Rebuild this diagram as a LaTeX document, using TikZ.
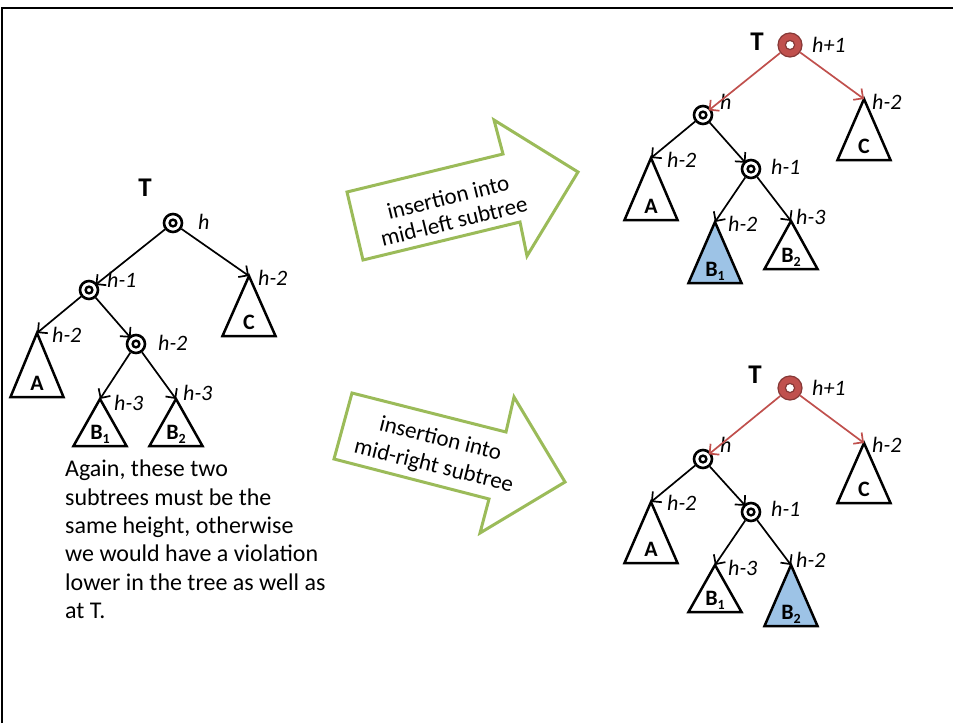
\documentclass[tikz,border=0pt]{standalone}
\usepackage{fontspec}
\setmainfont{Carlito}
\usetikzlibrary{arrows.meta,calc}
\definecolor{ogreen}{HTML}{9BBB59}
\definecolor{ored}{HTML}{C0504D}
\definecolor{oblue}{HTML}{9DC3E6}
\tikzset{
  knode/.style={circle, draw, line width=2.6pt, minimum size=18pt, inner sep=0pt, fill=white,
    path picture={\draw[line width=2.4pt] (path picture bounding box.center) circle (3.4pt);}},
  rnode/.style={circle, draw=ored!70!black, fill=ored, line width=1.2pt, minimum size=24pt, inner sep=0pt,
    path picture={\draw[draw=ored!70!black, fill=white, line width=1.2pt] (path picture bounding box.center) circle (4.6pt);}},
  hlab/.style={font=\fontsize{22}{26}\selectfont\itshape, anchor=west, inner sep=0pt},
  tlab/.style={font=\fontsize{27}{30}\selectfont\bfseries, inner sep=0pt},
  trilab/.style={font=\fontsize{22}{24}\selectfont\bfseries, anchor=base, inner sep=0pt},
  tri/.style={line width=2.5pt, draw=black},
  arr/.style={line width=1.7pt, -{Straight Barb[length=7pt,width=14pt]}},
  rarr/.style={arr, draw=ored},
  garrow/.style={line width=3pt, draw=ogreen, fill=white, line join=miter},
  atext/.style={align=center, inner sep=0pt},
  body/.style={anchor=north west, align=left, inner sep=0pt, font=\fontsize{24}{28.3}\selectfont},
}
\newcommand\sbtree[6]{%
  \coordinate (#1) at (#2,#3);
  \draw[tri, fill=#6] (#1) -- ++(-26.5,#4) -- ++(53,0) -- cycle;
  \node[trilab] (#1-t) at ($(#1)+(0,#4-7)$) {#5};
}
\newcommand\Bsub[1]{B\raisebox{-4pt}{\fontsize{14}{14}\selectfont #1}}
\begin{document}
\begin{tikzpicture}[x=1pt,y=-1pt]
\useasboundingbox (0,0) rectangle (953,723);
% frame
\draw[line width=2pt] (2,723) -- (2,7.7) -- (953,7.7);

% ---------------- left tree
\node[tlab] (LT) at (145,188) {T};
\node[knode] (La) at (173,223) {};
\node[hlab] (La-h) at (198,222) {h};
\node[knode] (Lb) at (89,290) {};
\node[hlab] (Lb-h) at (107,280) {h-1};
\node[knode] (Lc) at (136,344) {};
\node[hlab] (Lc-h) at (158,343) {h-2};
\sbtree{LC}{249}{276}{60}{C}{white}
\node[hlab] (LC-h) at (258,278) {h-2};
\sbtree{LA}{37}{333}{64}{A}{white}
\node[hlab] (LA-h) at (52,335) {h-2};
\sbtree{LB1}{100}{399}{47}{\Bsub{1}}{white}
\node[hlab] (LB1-h) at (114,403) {h-3};
\sbtree{LB2}{176}{399}{47}{\Bsub{2}}{white}
\node[hlab] (LB2-h) at (183,393) {h-3};
\draw[arr, shorten >=-2pt] (La) -- (Lb);
\draw[arr] (La) -- (LC);
\draw[arr] (Lb) -- (LA);
\draw[arr, shorten >=-2pt] (Lb) -- (Lc);
\draw[arr] (Lc) -- (LB1);
\draw[arr] (Lc) -- (LB2);

\node[body] (note) at (65,460) {Again, these two\\subtrees must be the\\same height, otherwise\\we would have a violation\\lower in the tree as well as\\at T.};

% ---------------- green arrows
\draw[garrow] (347,192) -- (503,154) -- (494,120) -- (578,172) -- (527,256) -- (520,222) -- (363,260) -- cycle;
\node[atext, rotate=13.7, font=\fontsize{23}{25}\selectfont] (g1) at (451,209) {insertion into\\mid-left subtree};
\draw[garrow] (352,393) -- (506,432) -- (514,397) -- (565,482) -- (480,533) -- (489,499) -- (334,459) -- cycle;
\node[atext, rotate=-14, font=\fontsize{23}{28}\selectfont] (g2) at (437,453) {insertion into\\mid-right subtree};

% ---------------- top right tree
\node[tlab] (TT) at (757,42) {T};
\node[rnode] (Ta) at (790,45) {};
\node[hlab] (Ta-h) at (812,45) {h+1};
\node[knode] (Tb) at (703,115) {};
\node[hlab] (Tb-h) at (720,102) {h};
\node[knode] (Tc) at (751,169) {};
\node[hlab] (Tc-h) at (771,167) {h-1};
\sbtree{TC}{864}{99}{61}{C}{white}
\node[hlab] (TC-h) at (872,102) {h-2};
\sbtree{TA}{651}{158}{62}{A}{white}
\node[hlab] (TA-h) at (667,160) {h-2};
\sbtree{TB1}{715}{222}{61}{\Bsub{1}}{oblue}
\node[hlab] (TB1-h) at (728,224) {h-2};
\sbtree{TB2}{791}{221}{48}{\Bsub{2}}{white}
\node[hlab] (TB2-h) at (796,217) {h-3};
\draw[rarr, shorten >=-3pt] (Ta) -- (Tb);
\draw[rarr] (Ta) -- (TC);
\draw[arr] (Tb) -- (TA);
\draw[arr, shorten >=-2pt] (Tb) -- (Tc);
\draw[arr] (Tc) -- (TB1);
\draw[arr] (Tc) -- (TB2);

% ---------------- bottom right tree
\node[tlab] (BT) at (755,375) {T};
\node[rnode] (Ba) at (790,388) {};
\node[hlab] (Ba-h) at (812,388) {h+1};
\node[knode] (Bb) at (703,459) {};
\node[hlab] (Bb-h) at (720,445) {h};
\node[knode] (Bc) at (751,512) {};
\node[hlab] (Bc-h) at (771,509) {h-1};
\sbtree{BC}{864}{443}{60}{C}{white}
\node[hlab] (BC-h) at (872,445) {h-2};
\sbtree{BA}{651}{502}{61}{A}{white}
\node[hlab] (BA-h) at (667,503) {h-2};
\sbtree{BB1}{715}{565}{47}{\Bsub{1}}{white}
\node[hlab] (BB1-h) at (728,568) {h-3};
\sbtree{BB2}{791}{565}{61}{\Bsub{2}}{oblue}
\node[hlab] (BB2-h) at (796,560) {h-2};
\draw[rarr, shorten >=-3pt] (Ba) -- (Bb);
\draw[rarr] (Ba) -- (BC);
\draw[arr] (Bb) -- (BA);
\draw[arr, shorten >=-2pt] (Bb) -- (Bc);
\draw[arr] (Bc) -- (BB1);
\draw[arr] (Bc) -- (BB2);
\end{tikzpicture}
\end{document}
